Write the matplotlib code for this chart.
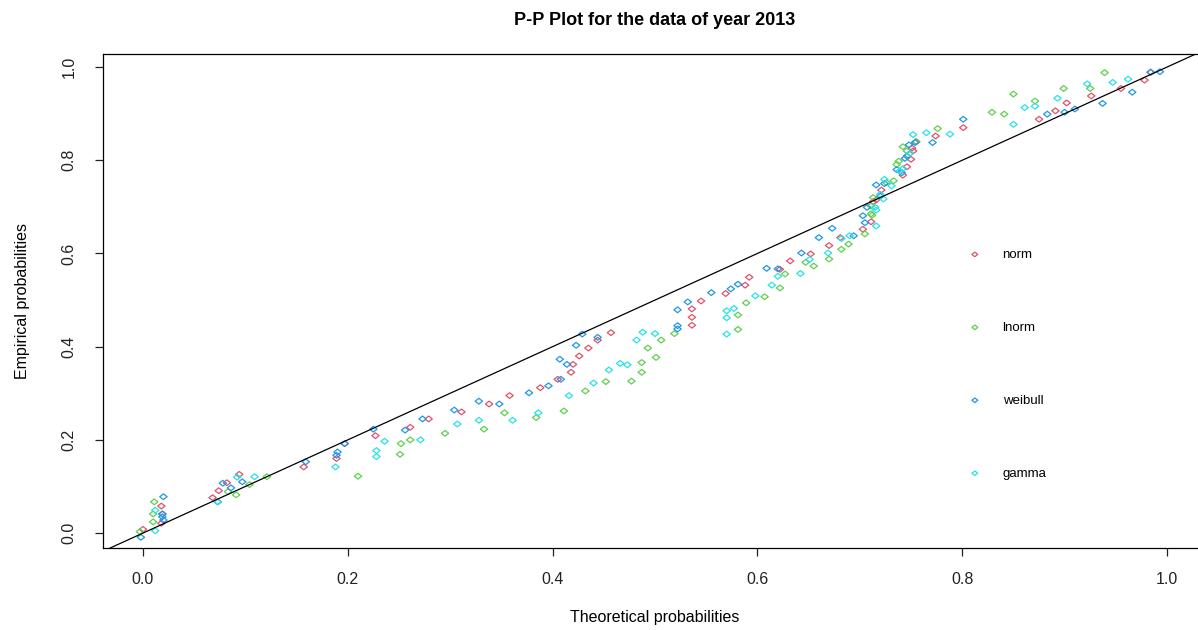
import numpy as np
import matplotlib.pyplot as plt
from matplotlib.path import Path

# P-P plot, 2013 data: theoretical (x) vs empirical (y) probabilities
norm_x = [0.000, 0.018, 0.019, 0.018, 0.068, 0.074, 0.082, 0.094, 0.157, 0.189,
          0.197, 0.227, 0.261, 0.279, 0.311, 0.338, 0.358, 0.388, 0.405, 0.418,
          0.420, 0.426, 0.435, 0.444, 0.457, 0.536, 0.536, 0.536, 0.545, 0.569,
          0.588, 0.592, 0.622, 0.632, 0.652, 0.670, 0.681, 0.703, 0.711, 0.713,
          0.716, 0.721, 0.742, 0.746, 0.750, 0.752, 0.751, 0.755, 0.774, 0.801,
          0.875, 0.891, 0.902, 0.926, 0.955, 0.978, 0.984]
norm_y = [0.008, 0.021, 0.041, 0.058, 0.076, 0.091, 0.108, 0.126, 0.142, 0.160,
          0.192, 0.209, 0.227, 0.245, 0.260, 0.277, 0.295, 0.312, 0.330, 0.345,
          0.362, 0.380, 0.397, 0.414, 0.430, 0.446, 0.463, 0.481, 0.498, 0.514,
          0.532, 0.549, 0.566, 0.584, 0.599, 0.617, 0.634, 0.652, 0.668, 0.711,
          0.715, 0.736, 0.768, 0.786, 0.802, 0.820, 0.826, 0.840, 0.852, 0.870,
          0.888, 0.906, 0.923, 0.938, 0.954, 0.972, 0.989]

lnorm_x = [-0.003, 0.010, 0.010, 0.011, 0.083, 0.091, 0.104, 0.121, 0.210, 0.251,
           0.252, 0.261, 0.295, 0.333, 0.384, 0.353, 0.411, 0.432, 0.452, 0.477,
           0.487, 0.487, 0.501, 0.493, 0.506, 0.519, 0.581, 0.581, 0.589, 0.607,
           0.622, 0.627, 0.655, 0.647, 0.670, 0.682, 0.689, 0.705, 0.712, 0.711,
           0.711, 0.713, 0.726, 0.733, 0.736, 0.738, 0.746, 0.742, 0.755, 0.776,
           0.829, 0.841, 0.850, 0.871, 0.899, 0.925, 0.939]
lnorm_y = [0.003, 0.024, 0.041, 0.067, 0.089, 0.082, 0.104, 0.121, 0.122, 0.169,
           0.192, 0.200, 0.214, 0.223, 0.248, 0.258, 0.262, 0.305, 0.325, 0.326,
           0.345, 0.366, 0.377, 0.397, 0.414, 0.428, 0.437, 0.468, 0.494, 0.507,
           0.526, 0.556, 0.573, 0.581, 0.588, 0.609, 0.620, 0.642, 0.682, 0.685,
           0.702, 0.720, 0.752, 0.756, 0.791, 0.798, 0.820, 0.829, 0.840, 0.868,
           0.903, 0.899, 0.942, 0.927, 0.954, 0.954, 0.988]

weibull_x = [-0.002, 0.020, 0.019, 0.019, 0.020, 0.073, 0.086, 0.078, 0.097, 0.159,
             0.189, 0.190, 0.197, 0.256, 0.225, 0.273, 0.304, 0.348, 0.328, 0.377,
             0.396, 0.408, 0.414, 0.407, 0.423, 0.444, 0.429, 0.522, 0.522, 0.522,
             0.532, 0.555, 0.574, 0.581, 0.620, 0.609, 0.643, 0.660, 0.694, 0.673,
             0.705, 0.703, 0.707, 0.720, 0.716, 0.724, 0.741, 0.736, 0.744, 0.746,
             0.748, 0.754, 0.771, 0.801, 0.883, 0.900, 0.910, 0.937, 0.966, 0.984,
             0.993]
weibull_y = [-0.009, 0.028, 0.035, 0.041, 0.078, 0.067, 0.097, 0.107, 0.110, 0.153,
             0.167, 0.174, 0.192, 0.221, 0.223, 0.245, 0.264, 0.277, 0.283, 0.301,
             0.316, 0.330, 0.362, 0.373, 0.403, 0.420, 0.427, 0.438, 0.445, 0.479,
             0.496, 0.516, 0.524, 0.534, 0.567, 0.568, 0.601, 0.634, 0.638, 0.654,
             0.666, 0.681, 0.699, 0.723, 0.747, 0.750, 0.773, 0.780, 0.804, 0.809,
             0.833, 0.838, 0.838, 0.888, 0.899, 0.903, 0.910, 0.922, 0.946, 0.989,
             0.990]

gamma_x = [0.012, 0.012, 0.073, 0.092, 0.109, 0.188, 0.228, 0.228, 0.236, 0.271,
           0.307, 0.328, 0.361, 0.386, 0.416, 0.440, 0.455, 0.466, 0.473, 0.482,
           0.488, 0.500, 0.570, 0.570, 0.570, 0.577, 0.598, 0.614, 0.620, 0.642,
           0.651, 0.669, 0.682, 0.690, 0.716, 0.716, 0.715, 0.723, 0.720, 0.731,
           0.724, 0.739, 0.742, 0.749, 0.752, 0.765, 0.788, 0.850, 0.861, 0.871,
           0.893, 0.922, 0.947, 0.962]
gamma_y = [0.005, 0.049, 0.067, 0.120, 0.121, 0.142, 0.164, 0.177, 0.197, 0.200,
           0.234, 0.242, 0.242, 0.258, 0.295, 0.322, 0.350, 0.364, 0.361, 0.414,
           0.431, 0.428, 0.427, 0.462, 0.477, 0.482, 0.509, 0.532, 0.551, 0.557,
           0.587, 0.601, 0.632, 0.638, 0.659, 0.693, 0.699, 0.717, 0.727, 0.745,
           0.759, 0.777, 0.782, 0.815, 0.855, 0.859, 0.856, 0.877, 0.913, 0.916,
           0.933, 0.964, 0.967, 0.974]

series = [
    ('norm', norm_x, norm_y, '#DF536B'),
    ('lnorm', lnorm_x, lnorm_y, '#61D04F'),
    ('weibull', weibull_x, weibull_y, '#2297E6'),
    ('gamma', gamma_x, gamma_y, '#28E2E5'),
]

plt.rcParams['font.family'] = ['Liberation Sans', 'DejaVu Sans']

# R style open diamond (pch = 5)
diamond = Path([(-1, 0), (0, 0.78), (1, 0), (0, -0.78), (-1, 0)],
               [Path.MOVETO, Path.LINETO, Path.LINETO, Path.LINETO, Path.CLOSEPOLY])

fig = plt.figure(figsize=(11.98, 6.30), dpi=100)
ax = fig.add_axes([103 / 1198, 82 / 630, 1104 / 1198, 494 / 630])

for name, xs, ys, col in series:
    ax.scatter(xs, ys, marker=diamond, s=28, facecolors='none',
               edgecolors=col, linewidths=0.9, label=name)

ax.axline((0, 0), slope=1, color='black', lw=0.9)

ax.set_xlim(-0.039, 1.039)
ax.set_ylim(-0.032, 1.028)
ticks = np.arange(0, 1.01, 0.2)
ax.set_xticks(ticks)
ax.set_yticks(ticks)
ax.set_xticklabels([f'{v:.1f}' for v in ticks])
ax.set_yticklabels([f'{v:.1f}' for v in ticks], rotation=90, va='center')
ax.tick_params(direction='out', length=6, width=0.9, labelsize=11.5, colors='#222222')
ax.tick_params(axis='x', pad=11)
ax.tick_params(axis='y', pad=13)
for sp in ax.spines.values():
    sp.set_linewidth(0.9)

ax.set_xlabel('Theoretical probabilities', fontsize=11.5, labelpad=17)
ax.set_ylabel('Empirical probabilities', fontsize=11.5, labelpad=23)
ax.set_title('P-P Plot for the data of year 2013', fontsize=13, fontweight='bold', pad=21)

ax.legend(loc='upper left', bbox_to_anchor=(0.767, 0.63), frameon=False,
          fontsize=9.5, labelspacing=4.6, handletextpad=1.1, markerscale=0.8)

fig.savefig('out.png', dpi=100)
